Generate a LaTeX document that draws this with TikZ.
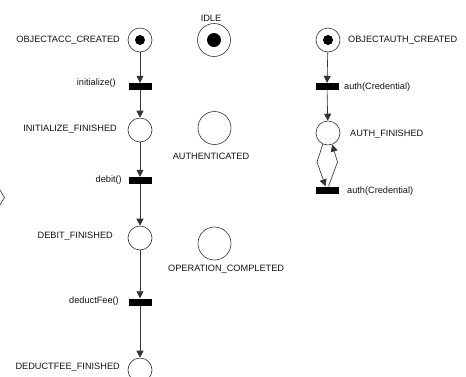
\documentclass[tikz,border=0pt]{standalone}
\usepackage{fontspec}
\setmainfont{Liberation Sans}
\usetikzlibrary{arrows.meta}
\definecolor{ink}{HTML}{141414}
\definecolor{edge}{HTML}{333333}
\begin{document}
\begin{tikzpicture}[x=1pt,y=-1pt,
  place/.style={circle,draw=edge,line width=0.6pt,minimum size=24pt,inner sep=0pt},
  bigplace/.style={place,minimum size=33pt},
  token/.style={circle,fill=black,inner sep=0pt,minimum size=#1},
  trans/.style={rectangle,fill=black,inner sep=0pt,minimum width=23pt,minimum height=7pt},
  lbl/.style={inner sep=0pt,text=ink,font=\fontsize{9.2}{10}\selectfont},
  arc/.style={draw=edge,line width=0.65pt,-{Triangle[length=7pt,width=7pt]}},
  plain/.style={draw=edge,line width=0.6pt}]
\clip (0,0) rectangle (466,376);
\fill[white] (0,0) rectangle (466,376);

% account object: places and transitions
\node[place] (p1) at (140,40) {};
\node[token=10pt] (k1) at (p1.center) {};
\node[trans] (t1) at (140,86.5) {};
\node[place] (p2) at (140,130) {};
\node[trans] (t2) at (140,180.5) {};
\node[place] (p3) at (140,238) {};
\node[trans] (t3) at (140,302) {};
\node[place] (p4) at (140,370) {};

% shared state places
\node[bigplace] (idle) at (214,40) {};
\node[token=14pt] (k2) at (idle.center) {};
\node[bigplace] (authd) at (214.5,128) {};
\node[bigplace] (opc) at (214.5,243.5) {};

% authentication object
\node[place] (oa) at (328,40) {};
\node[token=10pt] (k3) at (oa.center) {};
\node[trans] (ta1) at (327,86.5) {};
\node[place] (af) at (328,133) {};
\node[trans] (ta2) at (327.5,190) {};

% partly visible element on the left border
\draw[plain] (-10,173.5) -- (4.5,197.5) -- (-10,221.5);

% labels
\node[lbl,anchor=south] (lidle) at (211,22) {IDLE};
\node[lbl,anchor=east] (l1) at (120,40) {OBJECTACC\_CREATED};
\node[lbl,anchor=east] (lt1) at (116,83.5) {initialize()};
\node[lbl,anchor=east] (l2) at (117,129.5) {INITIALIZE\_FINISHED};
\node[lbl,anchor=east] (lt2) at (122,180) {debit()};
\node[lbl,anchor=east] (l3) at (113,236) {DEBIT\_FINISHED};
\node[lbl,anchor=east] (lt3) at (119,301) {deductFee()};
\node[lbl,anchor=east] (l4) at (120,367) {DEDUCTFEE\_FINISHED};
\node[lbl] (lauth) at (211,156) {AUTHENTICATED};
\node[lbl,anchor=west] (lopc) at (168,269.5) {OPERATION\_COMPLETED};
\node[lbl,anchor=west] (loa) at (348,40) {OBJECTAUTH\_CREATED};
\node[lbl,anchor=west] (lta1) at (344,87) {auth(Credential)};
\node[lbl,anchor=west] (laf) at (350,134) {AUTH\_FINISHED};
\node[lbl,anchor=west] (lta2) at (347,191) {auth(Credential)};

% arcs
\draw[arc] (p1) -- (t1);
\draw[arc] (t1) -- (p2);
\draw[arc] (p2) -- (t2);
\draw[arc] (t2) -- (p3);
\draw[arc] (p3) -- (t3);
\draw[arc] (t3) -- (p4);
\draw[arc] (oa) -- (ta1);
\draw[arc] (ta1) -- (af);

% self loop between AUTH_FINISHED and auth(Credential)
\coordinate (bendA) at (317,162);
\coordinate (bendB) at (337.5,162);
\draw[arc] (af.245) -- (bendA) -- ([xshift=-2pt]ta2.north);
\draw[arc] ([xshift=1pt]ta2.north) -- (bendB) -- (af.290);
\end{tikzpicture}
\end{document}
